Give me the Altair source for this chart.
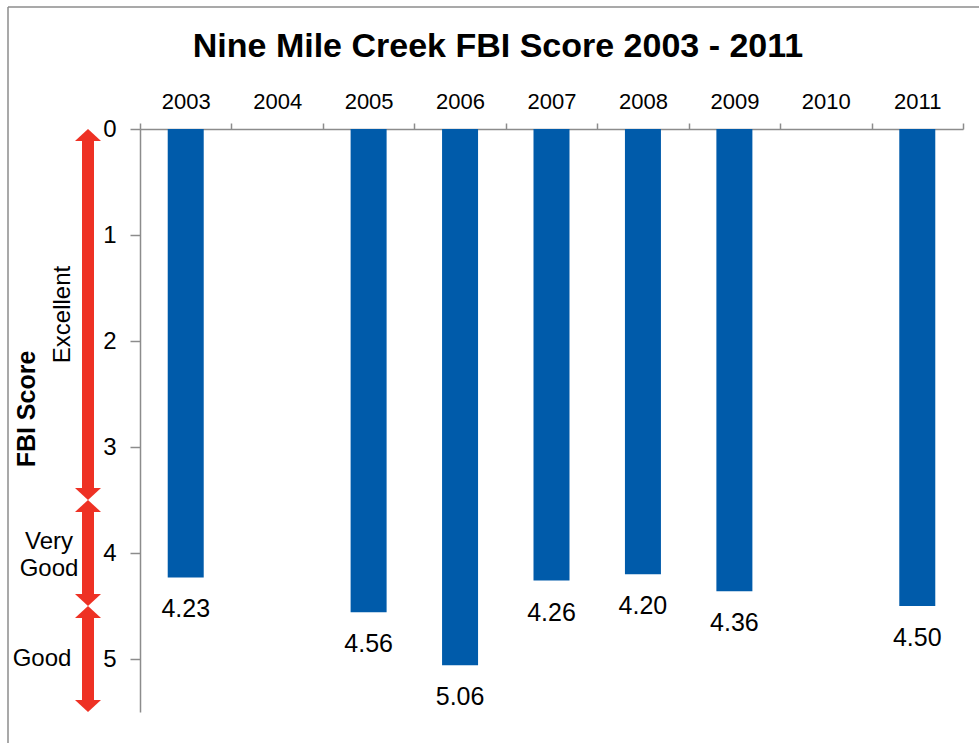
import altair as alt
import pandas as pd

# FBI scores by sampling year (no sample in 2004 and 2010)
years = ["2003", "2004", "2005", "2006", "2007", "2008", "2009", "2010", "2011"]
scores = [4.23, None, 4.56, 5.06, 4.26, 4.20, 4.36, None, 4.50]

# Water-quality rating bands on the FBI scale
band_labels = ["Excellent", "Very Good", "Good"]
band_start = [0.0, 3.5, 4.5]
band_end = [3.5, 4.5, 5.5]

y_ticks = [0, 1, 2, 3, 4, 5]
title_text = "Nine Mile Creek FBI Score 2003 - 2011"
axis_title = "FBI Score"

W, H = 823, 583
FONT = "Liberation Sans"
BLUE = "#005BAA"
RED = "#EE3124"
GRAY = "#8C8C8C"

df = pd.DataFrame({"year": years, "score": scores})
bars_df = df.dropna().reset_index(drop=True)
bands_df = pd.DataFrame({"label": band_labels, "start": band_start, "end": band_end})
bands_df["mid"] = (bands_df["start"] + bands_df["end"]) / 2
one = pd.DataFrame({"k": [0]})

x_axis = alt.Axis(
    orient="top", title=None, labelAngle=0, labelFont=FONT, labelFontSize=22,
    labelColor="black", labelBaseline="alphabetic", labelPadding=15,
    tickSize=6, tickColor=GRAY, tickWidth=1.5, tickBand="extent",
    domainColor=GRAY, domainWidth=1.5, grid=False,
)
y_axis = alt.Axis(
    title=None, values=y_ticks, format="d", labelFont=FONT, labelFontSize=24,
    labelColor="black", labelPadding=14, tickSize=10, tickColor=GRAY,
    tickWidth=1.5, domainColor=GRAY, domainWidth=1.5, grid=False,
)
x_scale = alt.Scale(domain=years, paddingInner=0, paddingOuter=0)
y_scale = alt.Scale(domain=[0, 5.5], reverse=True, nice=False, zero=True)


def yenc(field):
    return alt.Y(field, type="quantitative", scale=y_scale, axis=y_axis)


bars = alt.Chart(bars_df).mark_bar(size=36, color=BLUE).encode(
    x=alt.X("year:N", scale=x_scale, axis=x_axis),
    y=yenc("score"),
)

values = alt.Chart(bars_df).mark_text(
    font=FONT, fontSize=25, color="black", baseline="alphabetic", dy=40
).encode(
    x=alt.X("year:N", scale=x_scale, axis=x_axis),
    y=yenc("score"),
    text=alt.Text("score:Q", format=".2f"),
)

# Red double-headed arrows marking each rating band
shafts = alt.Chart(bands_df).mark_rule(
    color=RED, strokeWidth=12, yOffset=10, y2Offset=-10
).encode(x=alt.value(-52), y=yenc("start"), y2="end:Q")

heads_up = alt.Chart(bands_df).mark_point(
    shape="M-1,0.92L1,0.92L0,0Z", size=676, filled=True, color=RED, opacity=1, strokeWidth=0
).encode(x=alt.value(-52), y=yenc("start"))

heads_down = alt.Chart(bands_df).mark_point(
    shape="M-1,-0.92L1,-0.92L0,0Z", size=676, filled=True, color=RED, opacity=1, strokeWidth=0
).encode(x=alt.value(-52), y=yenc("end"))

excellent = alt.Chart(bands_df).transform_filter(alt.datum.label == "Excellent").mark_text(
    font=FONT, fontSize=24, color="black", angle=270, align="center", baseline="middle"
).encode(x=alt.value(-77.5), y=yenc("mid"), text="label:N")

very_good = alt.Chart(bands_df).transform_filter(alt.datum.label == "Very Good").mark_text(
    font=FONT, fontSize=24, color="black", align="center", baseline="middle",
    lineBreak=" ", lineHeight=27, dy=-11
).encode(x=alt.value(-91), y=yenc("mid"), text="label:N")

good = alt.Chart(bands_df).transform_filter(alt.datum.label == "Good").mark_text(
    font=FONT, fontSize=24, color="black", align="center", baseline="middle"
).encode(x=alt.value(-98), y=yenc("mid"), text="label:N")

y_title = alt.Chart(one).mark_text(
    text=axis_title, font=FONT, fontSize=25, fontWeight="bold", color="black",
    angle=270, align="center", baseline="middle"
).encode(x=alt.value(-113), y=alt.value(280))

title = alt.Chart(one).mark_text(
    text=title_text, font=FONT, fontSize=34, fontWeight="bold", color="black",
    align="center", baseline="alphabetic"
).encode(x=alt.value(358), y=alt.value(-72))

# Outer frame (left and top edges)
frame_left = alt.Chart(one).mark_rule(color=GRAY, strokeWidth=1.5).encode(
    x=alt.value(-132), y=alt.value(-122), y2=alt.value(H + 60)
)
frame_top = alt.Chart(one).mark_rule(color=GRAY, strokeWidth=1.5).encode(
    x=alt.value(-132), x2=alt.value(W + 60), y=alt.value(-122)
)

chart = alt.layer(
    frame_left, frame_top, bars, values, shafts, heads_up, heads_down,
    excellent, very_good, good, y_title, title,
).properties(
    width=W, height=H,
    autosize=alt.AutoSizeParams(type="none"),
    padding={"left": 140, "top": 129, "right": 16, "bottom": 31},
    background="white",
).configure_view(stroke=None)

chart.save("out.html", embed_options={"renderer": "svg", "actions": False})
